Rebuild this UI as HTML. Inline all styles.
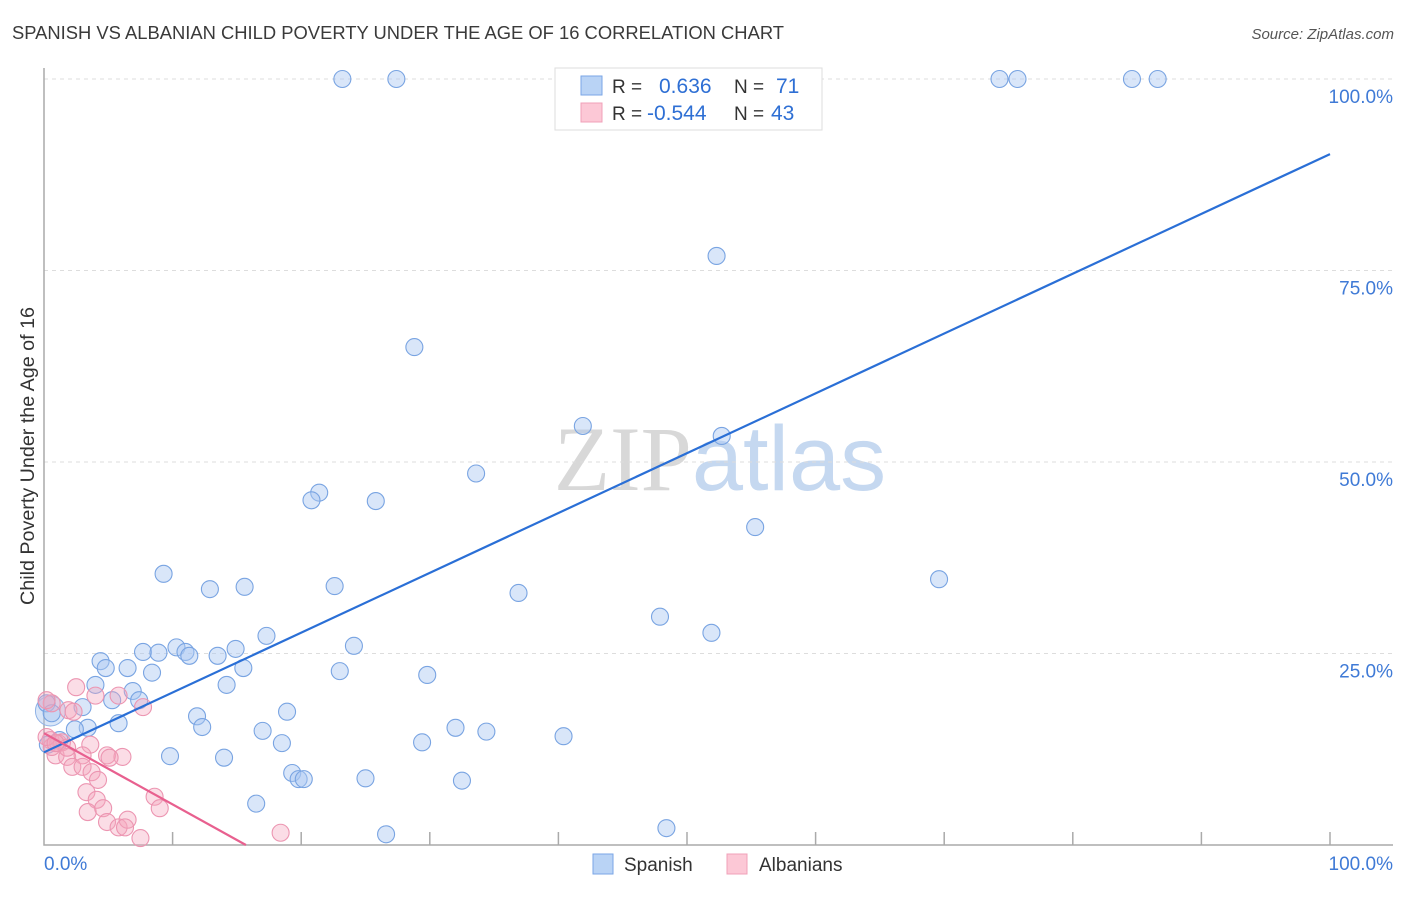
<!DOCTYPE html>
<html><head><meta charset="utf-8"><style>
body{margin:0;background:#fff;font-family:"Liberation Sans",sans-serif}
svg text{font-family:"Liberation Sans",sans-serif}
</style></head><body>
<svg id="chart" width="1406" height="892" xmlns="http://www.w3.org/2000/svg">
<text x="12" y="39" font-size="18" fill="#3a3a3a" textLength="772" lengthAdjust="spacingAndGlyphs">SPANISH VS ALBANIAN CHILD POVERTY UNDER THE AGE OF 16 CORRELATION CHART</text>
<text x="1394" y="39" font-size="15" fill="#555" text-anchor="end" font-style="italic">Source: ZipAtlas.com</text>
<text x="720" y="490" font-size="92" text-anchor="middle"><tspan fill="#d8d8d8" font-family="Liberation Serif">ZIP</tspan><tspan fill="#c5d8f0">atlas</tspan></text>
<text transform="translate(34,456) rotate(-90)" font-size="19" fill="#333" text-anchor="middle" textLength="298" lengthAdjust="spacingAndGlyphs">Child Poverty Under the Age of 16</text>
<g id="grid"></g><g id="pts"></g><g id="lines"></g>
<g>
<rect x="555" y="68" width="267" height="62" fill="#fff" stroke="#ddd"/>
<rect x="581" y="76" width="21" height="19" fill="#b9d3f5" stroke="#7aa6e6"/>
<rect x="581" y="103" width="21" height="19" fill="#fcc8d6" stroke="#f0a0b8"/>
<text x="612" y="93" font-size="19" fill="#333">R =</text><text x="659" y="93" font-size="21" fill="#2e6fd4">0.636</text>
<text x="734" y="93" font-size="19" fill="#333">N =</text><text x="776" y="93" font-size="21" fill="#2e6fd4">71</text>
<text x="612" y="120" font-size="19" fill="#333">R =</text><text x="647" y="120" font-size="21" fill="#2e6fd4">-0.544</text>
<text x="734" y="120" font-size="19" fill="#333">N =</text><text x="771" y="120" font-size="21" fill="#2e6fd4">43</text>
</g>
<g>
<rect x="593" y="854" width="20" height="20" fill="#b9d3f5" stroke="#7aa6e6"/>
<text x="624" y="871" font-size="19" fill="#333">Spanish</text>
<rect x="727" y="854" width="20" height="20" fill="#fcc8d6" stroke="#f0a0b8"/>
<text x="759" y="871" font-size="19" fill="#333">Albanians</text>
</g>
</svg>
<script>
const yTicks=[25,50,75,100];
const yTickLabels=["25.0%","50.0%","75.0%","100.0%"];
const xTicks=[0,10,20,30,40,50,60,70,80,90,100];
const spanishX=[23.2,27.4,74.3,75.7,84.6,86.6,52.3,28.8,41.9,52.7,33.6,21.4,20.8,25.8,55.3,69.6,9.3,12.9,15.6,22.6,36.9,47.9,51.9,17.3,24.1,7.7,8.9,10.3,11.0,11.3,13.5,14.9,4.4,4.8,6.5,8.4,15.5,23.0,29.8,14.2,4.0,6.9,3.0,5.3,7.4,11.9,18.9,12.3,5.8,3.4,2.4,17.0,18.5,32.0,34.4,40.4,29.4,9.8,14.0,19.3,19.8,20.2,25.0,32.5,16.5,26.6,48.4,0.2,0.6,1.2,0.3];
const spanishY=[100,100,100,100,100,100,76.9,65.0,54.7,53.4,48.5,46.0,45.0,44.9,41.5,34.7,35.4,33.4,33.7,33.8,32.9,29.8,27.7,27.3,26.0,25.2,25.1,25.8,25.2,24.7,24.7,25.6,24.0,23.1,23.1,22.5,23.1,22.7,22.2,20.9,20.9,20.1,18.0,18.9,18.9,16.8,17.4,15.4,15.9,15.3,15.1,14.9,13.3,15.3,14.8,14.2,13.4,11.6,11.4,9.4,8.6,8.6,8.7,8.4,5.4,1.4,2.2,18.5,17.2,13.7,13.1];
const albX=[2.5,4.0,5.8,0.6,1.9,2.3,7.7,0.5,1.1,1.4,3.6,0.9,1.8,4.9,6.1,3.0,2.2,3.0,3.7,4.2,3.3,4.1,8.6,9.0,3.4,4.6,4.9,5.8,6.5,6.3,7.5,18.4,0.2,0.6,5.1,1.8,0.2,0.9];
const albY=[20.6,19.5,19.5,18.5,17.6,17.4,18.0,13.7,13.3,13.4,13.1,11.7,11.5,11.7,11.5,11.7,10.2,10.2,9.5,8.5,6.9,5.9,6.3,4.8,4.3,4.8,3.0,2.3,3.3,2.3,0.9,1.6,18.9,12.8,11.4,12.7,14.1,13.3];
const spanishTrend=[[0,12.1],[100,90.2]];
const albTrend=[[0,14.6],[15.7,0]];
const NS="http://www.w3.org/2000/svg";
const X=v=>44+v*12.86, Y=v=>845-v*7.66;
function mk(t,a,p){const e=document.createElementNS(NS,t);for(const k in a)e.setAttribute(k,a[k]);p.appendChild(e);return e;}
const g=document.getElementById('grid');
yTicks.forEach((t,i)=>{
 const l=mk('line',{x1:44,x2:1393,y1:Y(t),y2:Y(t),stroke:'#ddd','stroke-dasharray':'4,4'},g);
 
 
 const tx=mk('text',{x:1393,y:Y(t)+24,'font-size':19,fill:'#3f7ad6','text-anchor':'end'},g);tx.textContent=yTickLabels[i];
 
 
});
const ax=mk('path',{d:'M44,68V845H1393',fill:'none',stroke:'#aaa','stroke-width':1.5},g);


xTicks.forEach(t=>{if(t===0)return;const l=mk('line',{x1:X(t),x2:X(t),y1:832,y2:845,stroke:'#aaa','stroke-width':1.5},g);
 
 });
[[0,"0.0%","start",44],[100,"100.0%","end",1393]].forEach(a=>{const t=mk('text',{x:a[3],y:870,'font-size':19,fill:'#3f7ad6','text-anchor':a[2]},g);t.textContent=a[1];
 
 });
const p=document.getElementById('pts');
let b=mk('circle',{cx:X(0.5),cy:Y(17.5),r:15,fill:'rgba(170,200,240,0.45)',stroke:'#8fb2e6'},p);


spanishX.forEach((x,i)=>{const c=mk('circle',{cx:X(x),cy:Y(spanishY[i]),r:8.5,fill:'rgba(170,200,242,0.45)',stroke:'#79a4e2','stroke-width':1.1},p);
 
 });
albX.forEach((x,i)=>{const c=mk('circle',{cx:X(x),cy:Y(albY[i]),r:8.5,fill:'rgba(244,165,190,0.38)',stroke:'#ec95b1','stroke-width':1.1},p);
 
 });
const L=document.getElementById('lines');
let s=mk('line',{x1:X(spanishTrend[0][0]),y1:Y(spanishTrend[0][1]),x2:X(spanishTrend[1][0]),y2:Y(spanishTrend[1][1]),stroke:'#2a6fd6','stroke-width':2.2},L);


let a=mk('line',{x1:X(albTrend[0][0]),y1:Y(albTrend[0][1]),x2:X(albTrend[1][0]),y2:Y(albTrend[1][1]),stroke:'#e8608f','stroke-width':2.2},L);


</script>
</body></html>
